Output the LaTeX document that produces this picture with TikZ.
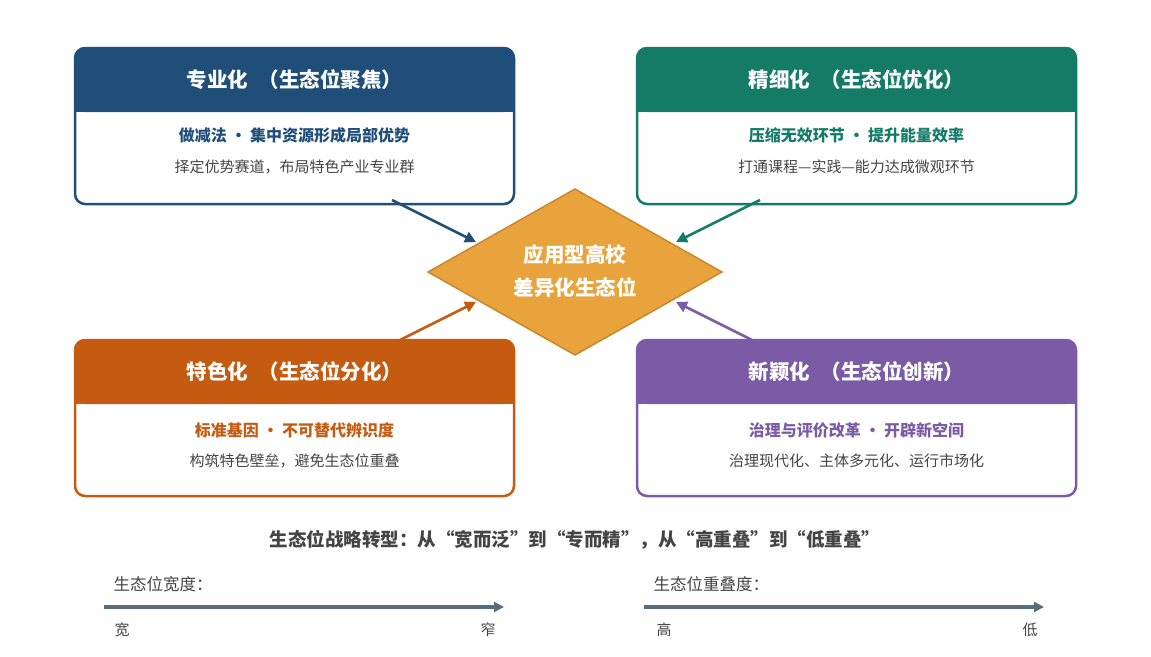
\documentclass[tikz,border=0pt]{standalone}
\usepackage{fontspec}
\setmainfont{Noto Sans CJK SC}
\usetikzlibrary{arrows.meta,shapes.geometric}
\definecolor{cblue}{HTML}{1F4E79}
\definecolor{cgreen}{HTML}{137B66}
\definecolor{corange}{HTML}{C55A11}
\definecolor{cpurple}{HTML}{7B5BA6}
\definecolor{cgold}{HTML}{E8A33D}
\definecolor{cgoldd}{HTML}{C9892B}
\definecolor{cslate}{HTML}{546E7A}
\definecolor{ctext}{HTML}{444444}
\tikzset{
  hdr/.style={text=white,font=\fontsize{20.5}{24}\selectfont\bfseries},
  sub/.style={font=\fontsize{16}{19}\selectfont\bfseries},
  desc/.style={text=ctext,font=\fontsize{15}{18}\selectfont},
  conn/.style={line width=2.6pt,-{Triangle[length=11pt,width=11pt]}},
  axis/.style={line width=3.2pt,cslate,-{Triangle[length=10pt,width=10pt]}},
  axlab/.style={text=ctext,font=\fontsize{16.5}{19}\selectfont,anchor=west},
  axend/.style={text=ctext,font=\fontsize{15}{18}\selectfont},
}
\newcommand{\card}[5]{%
  \fill[#4,rounded corners=10pt] (#2,#3) rectangle ++(439,64);
  \fill[#4] (#2,#3+40) rectangle ++(439,24);
  \draw[#4,line width=2.5pt,rounded corners=10pt] (#2,#3) rectangle ++(439,156);
  \node[hdr] (#1h) at (#2+219.5,#3+32) {#5};
}
\begin{document}
\begin{tikzpicture}[x=1pt,y=-1pt]
\useasboundingbox (0,0) rectangle (1151,656);
% cards
\card{tl}{75}{48}{cblue}{专业化\hspace{0.5em}（生态位聚焦）}
\node[sub,text=cblue] (tls) at (294.5,135) {做减法 · 集中资源形成局部优势};
\node[desc] (tld) at (294.5,167) {择定优势赛道，布局特色产业专业群};
\coordinate (tlo) at (392,200);

\card{tr}{637}{48}{cgreen}{精细化\hspace{0.5em}（生态位优化）}
\node[sub,text=cgreen] (trs) at (856.5,135) {压缩无效环节 · 提升能量效率};
\node[desc] (trd) at (856.5,167) {打通课程—实践—能力达成微观环节};
\coordinate (tro) at (760,200);

\card{bl}{75}{340}{corange}{特色化\hspace{0.5em}（生态位分化）}
\node[sub,text=corange] (bls) at (294.5,430) {标准基因 · 不可替代辨识度};
\node[desc] (bld) at (294.5,461) {构筑特色壁垒，避免生态位重叠};
\coordinate (blo) at (400,340);

\card{br}{637}{340}{cpurple}{新颖化\hspace{0.5em}（生态位创新）}
\node[sub,text=cpurple] (brs) at (856.5,430) {治理与评价改革 · 开辟新空间};
\node[desc] (brd) at (856.5,461) {治理现代化、主体多元化、运行市场化};
\coordinate (bro) at (752,340);

% diamond
\draw[fill=cgold,draw=cgoldd,line width=1.5pt] (428,272) -- (575,189) -- (722,272) -- (575,355) -- cycle;
\node[text=white,font=\fontsize{20.5}{33}\selectfont\bfseries,align=center] (core) at (575,271) {应用型高校\\差异化生态位};
\coordinate (ctl) at (476,242);
\coordinate (ctr) at (676,242);
\coordinate (cbl) at (476,302);
\coordinate (cbr) at (676,302);
\draw[conn,cblue] (tlo) -- (ctl);
\draw[conn,cgreen] (tro) -- (ctr);
\draw[conn,corange] (blo) -- (cbl);
\draw[conn,cpurple] (bro) -- (cbr);

% bottom
\node[text=ctext,font=\fontsize{18.5}{22}\selectfont\bfseries] (title) at (575,540) {生态位战略转型：从“宽而泛”到“专而精”，从“高重叠”到“低重叠”};
\node[axlab] (la) at (110,584) {生态位宽度：};
\coordinate (la0) at (104,607);
\coordinate (la1) at (504,607);
\draw[axis] (la0) -- (la1);
\node[axend] (lw) at (122,630) {宽};
\node[axend] (ln) at (488,630) {窄};
\node[axlab] (ra) at (650,584) {生态位重叠度：};
\coordinate (ra0) at (644,607);
\coordinate (ra1) at (1044,607);
\draw[axis] (ra0) -- (ra1);
\node[axend] (rh) at (664,630) {高};
\node[axend] (rl) at (1030,630) {低};
\end{tikzpicture}
\end{document}
